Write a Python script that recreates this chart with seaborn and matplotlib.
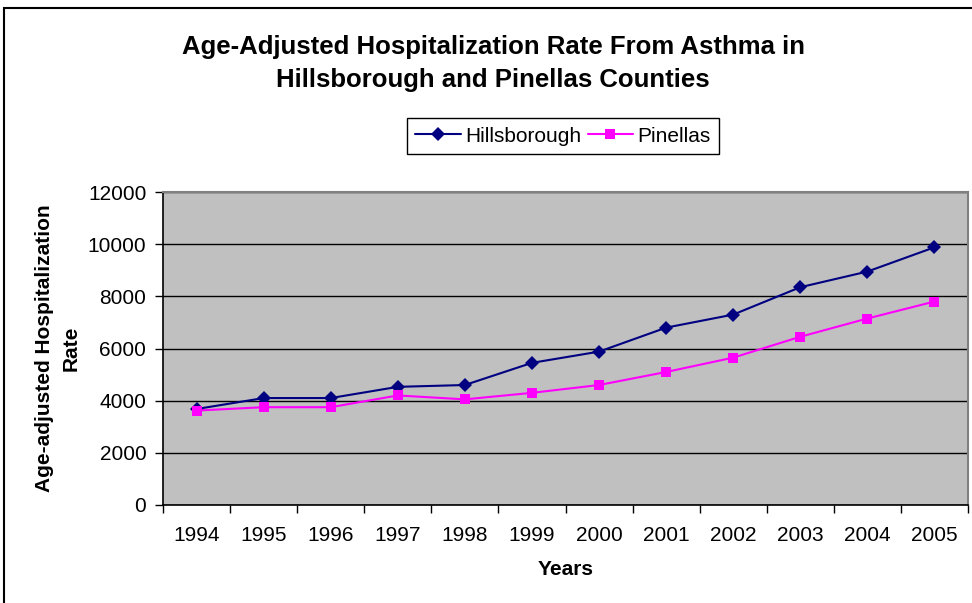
import matplotlib
matplotlib.use("Agg")
import matplotlib.pyplot as plt
import seaborn as sns
import pandas as pd
from matplotlib.patches import Rectangle
from matplotlib.ticker import FixedLocator

years = [1994, 1995, 1996, 1997, 1998, 1999, 2000, 2001, 2002, 2003, 2004, 2005]
hillsborough = [3680, 4100, 4100, 4530, 4600, 5450, 5880, 6800, 7300, 8350, 8950, 9880]
pinellas = [3620, 3750, 3750, 4200, 4050, 4300, 4600, 5100, 5650, 6450, 7150, 7800]
series_names = ["Hillsborough", "Pinellas"]
y_ticks = [0, 2000, 4000, 6000, 8000, 10000, 12000]

df = pd.DataFrame({
    "Year": years * 2,
    "Rate": hillsborough + pinellas,
    "County": [series_names[0]] * len(years) + [series_names[1]] * len(years),
})

sns.set_theme(style="white")
plt.rcParams["font.family"] = ["Liberation Sans", "DejaVu Sans"]
plt.rcParams["text.color"] = "black"
plt.rcParams["axes.labelcolor"] = "black"
plt.rcParams["xtick.color"] = "black"
plt.rcParams["ytick.color"] = "black"

fig = plt.figure(figsize=(9.72, 6.03), dpi=100)
ax = fig.add_axes([163 / 972, 1 - 505 / 603, (968 - 163) / 972, (505 - 192) / 603])
ax.set_facecolor("#C0C0C0")

palette = {"Hillsborough": "#000080", "Pinellas": "#FF00FF"}
markers = {"Hillsborough": "D", "Pinellas": "s"}
sns.lineplot(data=df, x="Year", y="Rate", hue="County", style="County",
             palette=palette, markers=markers, dashes=False, markersize=7,
             markeredgewidth=0, linewidth=1.5, ax=ax)

ax.set_xlim(years[0] - 0.5, years[-1] + 0.5)
ax.set_ylim(y_ticks[0], y_ticks[-1])
ax.set_yticks(y_ticks)
ax.set_yticklabels([str(v) for v in y_ticks], fontsize=15)
ax.set_xticks(years)
ax.set_xticklabels([str(y) for y in years], fontsize=15)
ax.xaxis.set_minor_locator(FixedLocator([y - 0.5 for y in years] + [years[-1] + 0.5]))
ax.tick_params(axis="x", which="major", length=0, pad=15)
ax.tick_params(axis="x", which="minor", length=6, width=1, color="black", direction="out", bottom=True)
ax.tick_params(axis="y", which="major", length=6, width=1, color="black", direction="out", left=True, pad=6)

ax.grid(axis="y", color="black", linewidth=1)
ax.set_axisbelow(True)
for s in ["left", "bottom"]:
    ax.spines[s].set_color("black")
    ax.spines[s].set_linewidth(1.2)
for s in ["top", "right"]:
    ax.spines[s].set_color("#808080")
    ax.spines[s].set_linewidth(1.5)

ax.set_xlabel("Years", fontsize=15, fontweight="bold", labelpad=11)
ax.set_ylabel("Age-adjusted Hospitalization\nRate", fontsize=15, fontweight="bold",
              labelpad=5, linespacing=1.5)

handles, labels = ax.get_legend_handles_labels()
ax.legend_.remove()
leg = fig.legend(handles, labels, loc="center", bbox_to_anchor=(563 / 972, 1 - 136 / 603),
                 ncol=2, fontsize=15, frameon=True, fancybox=False, edgecolor="black",
                 framealpha=1, handlelength=2.2, handletextpad=0.2, columnspacing=0.3,
                 borderpad=0.4, borderaxespad=0)
leg.get_frame().set_linewidth(1)

fig.text(493 / 972, 1 - 47 / 603, "Age-Adjusted Hospitalization Rate From Asthma in",
         ha="center", va="center", fontsize=18.5, fontweight="bold")
fig.text(493 / 972, 1 - 80 / 603, "Hillsborough and Pinellas Counties",
         ha="center", va="center", fontsize=18.5, fontweight="bold")

fig.patches.append(Rectangle((4 / 972, -0.05), 1.1, 1 - 8 / 603 + 0.05, transform=fig.transFigure,
                             fill=False, edgecolor="black", linewidth=1.5, figure=fig))

fig.savefig("out.png", dpi=100)
